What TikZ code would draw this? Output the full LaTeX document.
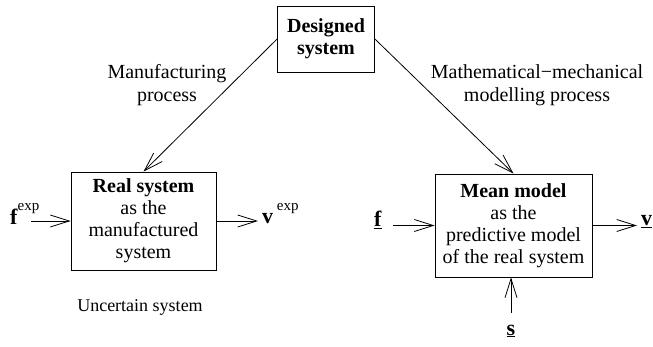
\documentclass[tikz,border=0pt]{standalone}
\usepackage{fontspec}
\setmainfont{Liberation Serif}
\usetikzlibrary{arrows.meta}
\begin{document}
\begin{tikzpicture}[x=1pt,y=-1pt,
  box/.style={draw,line width=0.8pt,rectangle,align=center,inner sep=0pt,font=\fontsize{20}{22}\selectfont},
  lbl/.style={align=center,inner sep=0pt,font=\fontsize{20}{22.5}\selectfont},
  sym/.style={inner sep=0pt,font=\fontsize{22}{24}\selectfont},
  arr/.style={line width=0.8pt,-{Straight Barb[length=19pt,width=12pt]}}]
\useasboundingbox (0,0) rectangle (653,347);
\node[box,minimum width=97pt,minimum height=66pt] (des) at (326,39) {\textbf{Designed}\\\textbf{system}};
\node[box,minimum width=145pt,minimum height=98pt] (real) at (143.5,221) {\textbf{Real system}\\as the\\manufactured\\system};
\node[box,minimum width=157pt,minimum height=103pt] (mean) at (513.5,225.5) {\textbf{Mean model}\\as the\\predictive model\\of the real system};
\node[lbl] (manu) at (167,85) {Manufacturing\\process};
\node[lbl] (math) at (537,85) {Mathematical−mechanical\\modelling process};
\node[inner sep=0pt,font=\fontsize{18}{20}\selectfont] (unc) at (140,307) {Uncertain system};
\draw[arr] (des.west) -- (real.north);
\draw[arr] (des.east) -- (mean.north);
% real system inputs/outputs
\node[sym,anchor=west] (fexp) at (10,214) {\textbf{f}\raisebox{1.3ex}{\fontsize{15}{15}\selectfont exp}};
\coordinate (fexpend) at (31,221);
\draw[arr] (fexpend) -- (fexpend -| real.west);
\coordinate (vexpend) at (258,221);
\draw[arr] (real.east) -- (vexpend);
\node[sym,anchor=west] (vexp) at (262,214) {\textbf{v}\,\raisebox{1.3ex}{\fontsize{15}{15}\selectfont exp}};
% mean model
\node[sym] (fm) at (378,220) {\underline{\textbf{f}}};
\coordinate (fmend) at (393,225.5);
\draw[arr] (fmend) -- (mean.west);
\coordinate (vmend) at (637,225.5);
\draw[arr] (mean.east) -- (vmend);
\node[sym,anchor=west] (vm) at (641,222) {\underline{\textbf{v}}};
\coordinate (send) at (511,313);
\draw[arr] (send) -- (send |- mean.south);
\node[sym] (sm) at (511,331) {\underline{\textbf{s}}};
\end{tikzpicture}
\end{document}
